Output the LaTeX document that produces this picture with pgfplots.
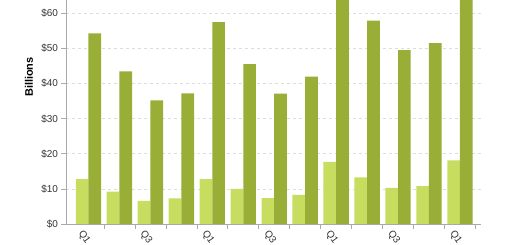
\documentclass[border=0pt]{standalone}
\usepackage{pgfplots}
\pgfplotsset{compat=1.18}
\usepackage{fontspec}
\setmainfont{Liberation Sans}
\definecolor{lightg}{HTML}{C6DD5F}
\definecolor{darkg}{HTML}{98AE36}
\definecolor{axgray}{HTML}{AAAAAA}
\definecolor{gridgray}{HTML}{DDDDDD}
\definecolor{txt}{HTML}{333333}
\begin{document}
\begin{tikzpicture}
\useasboundingbox (0,0) rectangle (520bp,245bp);
\begin{axis}[
  at={(66bp,21bp)}, anchor=south west,
  scale only axis, width=415bp, height=224bp,
  xmin=-0.726, xmax=12.68, ymin=0, ymax=63.8,
  ybar=0pt, bar width=0.41,
  axis x line*=bottom, axis y line*=left,
  axis line style={-, draw=axgray, line width=0.8bp},
  tick style={draw=axgray, line width=0.6bp},
  tick align=outside, major tick length=4.5bp, minor tick length=4.5bp,
  ytick={0,10,20,30,40,50,60},
  yticklabels={\$0,\$10,\$20,\$30,\$40,\$50,\$60},
  ymajorgrids, grid style={dashed, draw=gridgray, line width=0.6bp},
  xtick={0,2,4,6,8,10,12},
  xticklabels={Q1,Q3,Q1,Q3,Q1,Q3,Q1},
  major x tick style={draw=none},
  minor xtick={0.5,1.5,...,12.5},
  xticklabel style={rotate=-55, anchor=north west, inner sep=1bp, xshift=-3bp, yshift=-3bp},
  ticklabel style={font=\fontsize{10}{12}\selectfont, text=txt},
  ylabel={\textbf{Billions}},
  ylabel style={at={(axis description cs:-0.089,0.656)}, anchor=center, rotate=0, font=\fontsize{11}{13}\selectfont, text=black},
  clip=true,
]
\addplot[fill=lightg, draw=none, bar shift=-0.205] coordinates {
 (0,12.8) (1,9.2) (2,6.6) (3,7.3) (4,12.8) (5,10.0) (6,7.4) (7,8.3) (8,17.7) (9,13.3) (10,10.3) (11,10.8) (12,18.1)};
\addplot[fill=darkg, draw=none, bar shift=0.205] coordinates {
 (0,54.3) (1,43.5) (2,35.2) (3,37.2) (4,57.5) (5,45.5) (6,37.1) (7,42.0) (8,66) (9,57.9) (10,49.5) (11,51.5) (12,67)};
\end{axis}
\end{tikzpicture}
\end{document}
